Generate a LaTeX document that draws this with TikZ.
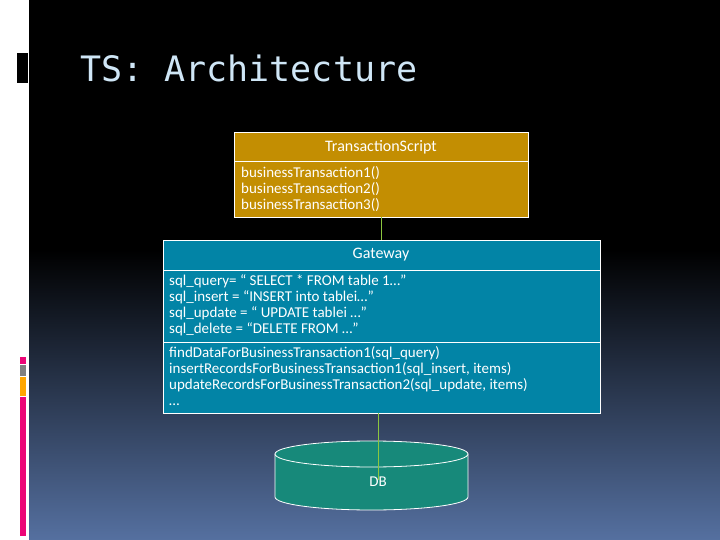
\documentclass[tikz,border=0pt]{standalone}
\usepackage{fontspec}
\setmainfont{Carlito}
\newfontfamily\titlefont{DejaVu Sans Mono}
\definecolor{tsgold}{HTML}{C38E02}
\definecolor{gwblue}{HTML}{0284A6}
\definecolor{dbgreen}{HTML}{17897A}
\definecolor{bgbot}{HTML}{5570A0}
\definecolor{titlec}{HTML}{CFE6F6}
\definecolor{linkc}{HTML}{8CC63F}
\begin{document}
\begin{tikzpicture}[x=1pt,y=-1pt,
  box/.style={draw=white,line width=0.8pt},
  txt/.style={text=white,font=\fontsize{15}{16}\selectfont,inner sep=0pt},
  hdr/.style={text=white,font=\fontsize{16}{16}\selectfont,inner sep=0pt},
  link/.style={draw=linkc,line width=0.6pt}]
\useasboundingbox (0,0) rectangle (720,540);
\fill[white] (0,0) rectangle (29,540);
\fill[black] (29,0) rectangle (720,250);
\shade[top color=black,bottom color=bgbot] (29,250) rectangle (720,540);
\fill[black] (17,53) rectangle (28,83);
\fill[magenta!80!red] (20,357) rectangle (26,364);
\fill[gray] (20,365) rectangle (26,376);
\fill[orange!70!yellow] (20,377) rectangle (26,396);
\fill[magenta!80!red] (20,397) rectangle (26,536);
\node[anchor=base west,inner sep=0pt,text=titlec,font=\titlefont\fontsize{35}{36}\selectfont] (title) at (80,82) {TS: Architecture};
% TS box
\draw[box,fill=tsgold] (234,132) rectangle (528,217);
\draw[box] (234,161) -- (528,161);
\coordinate (tsb) at (381,217);
\node[hdr] (tsh) at (381,147) {TransactionScript};
\node[txt,anchor=north west,align=left] (tsm) at (241,166) {businessTransaction1()\\businessTransaction2()\\businessTransaction3()};
% Gateway
\draw[box,fill=gwblue] (163,240) rectangle (600,413);
\draw[box] (163,270) -- (600,270);
\draw[box] (163,342) -- (600,342);
\coordinate (gwt) at (381,240);
\coordinate (gwb) at (378,413);
\node[hdr] (gwh) at (381,255) {Gateway};
\node[txt,anchor=north west,align=left] (gwa) at (169,274) {sql\_query= “ SELECT * FROM table 1…”\\sql\_insert = “INSERT into tablei…”\\sql\_update = “ UPDATE tablei …”\\sql\_delete = “DELETE FROM …”};
\node[txt,anchor=north west,align=left] (gwm) at (169,346) {findDataForBusinessTransaction1(sql\_query)\\insertRecordsForBusinessTransaction1(sql\_insert, items)\\updateRecordsForBusinessTransaction2(sql\_update, items)\\…};
% DB
\draw[box,fill=dbgreen] (275,454) -- (275,497) arc[start angle=180,end angle=0,x radius=96.5,y radius=13] -- (468,454) -- cycle;
\draw[box,fill=dbgreen] (371.5,454) ellipse[x radius=96.5,y radius=13];
\coordinate (dbin) at (378,480);
\node[txt] (db) at (378,482) {DB};
\draw[link] (tsb) -- (gwt);
\draw[link] (gwb) -- (dbin);
\end{tikzpicture}
\end{document}
